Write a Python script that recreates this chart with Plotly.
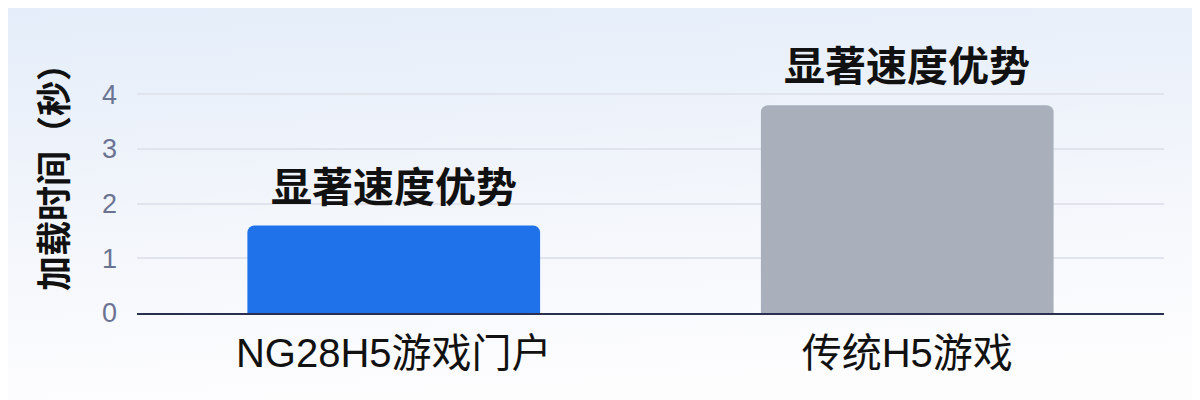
import base64
import plotly.graph_objects as go

categories = ["NG28H5游戏门户", "传统H5游戏"]
load_times = [1.6, 3.8]
bar_labels = ["显著速度优势", "显著速度优势"]
bar_colors = ["#1f72ea", "#a9b0bb"]
y_ticks = [0, 1, 2, 3, 4]

FONT = "Liberation Sans, Noto Sans CJK SC, sans-serif"

# soft blue-to-white page gradient (inline svg, no network needed)
svg = (
    '<svg xmlns="http://www.w3.org/2000/svg" width="100" height="100" preserveAspectRatio="none">'
    '<defs><linearGradient id="g" x1="0" y1="0" x2="0.15" y2="1">'
    '<stop offset="0" stop-color="#e4edf9"/><stop offset="0.55" stop-color="#f3f6fb"/>'
    '<stop offset="1" stop-color="#fdfdfe"/></linearGradient></defs>'
    '<rect width="100" height="100" fill="url(#g)"/></svg>'
)
bg_src = "data:image/svg+xml;base64," + base64.b64encode(svg.encode()).decode()

W, H = 1200, 400
ml, mr, mt, mb = 129, 44, 59, 95
pw, ph = W - ml - mr, H - mt - mb

fig = go.Figure()
fig.add_trace(go.Bar(
    x=categories,
    y=load_times,
    marker=dict(color=bar_colors, cornerradius=7, line=dict(width=0)),
    width=0.57,
    hoverinfo="x+y",
))

for cat, val, lab in zip(categories, load_times, bar_labels):
    fig.add_annotation(
        x=cat, y=val, text=lab, showarrow=False,
        yanchor="bottom", yshift=13,
        font=dict(family=FONT, size=41, color="#111111", weight=600),
    )

# y-axis title as an annotation so it can sit where the reference has it
fig.add_annotation(
    text="加载时间（秒）", textangle=-90, showarrow=False,
    xref="paper", yref="paper",
    x=(46 - ml) / pw, y=1 - (161 - mt) / ph,
    xanchor="center", yanchor="middle",
    font=dict(family=FONT, size=35, color="#111111", weight=600),
)

fig.update_layout(
    width=W, height=H,
    margin=dict(l=ml, r=mr, t=mt, b=mb),
    paper_bgcolor="rgba(0,0,0,0)",
    plot_bgcolor="rgba(0,0,0,0)",
    showlegend=False,
    font=dict(family=FONT),
    bargap=0.43,
    images=[dict(
        source=bg_src, xref="paper", yref="paper",
        x=-ml / pw, y=1 + mt / ph, sizex=W / pw, sizey=H / ph,
        xanchor="left", yanchor="top", sizing="stretch", layer="below",
    )],
    xaxis=dict(
        showgrid=False, showline=True, linecolor="#2b3050", linewidth=2,
        tickfont=dict(family=FONT, size=40, color="#111111"),
        ticks="", ticklabelstandoff=4,
    ),
    yaxis=dict(
        range=[0, 4.5], tickvals=y_ticks,
        showgrid=True, gridcolor="#e1e4ec", gridwidth=1.5,
        zeroline=False, showline=False,
        tickfont=dict(family=FONT, size=27, color="#6b7393"),
        ticklabelstandoff=19,
    ),
)

fig.write_html("out.html")
